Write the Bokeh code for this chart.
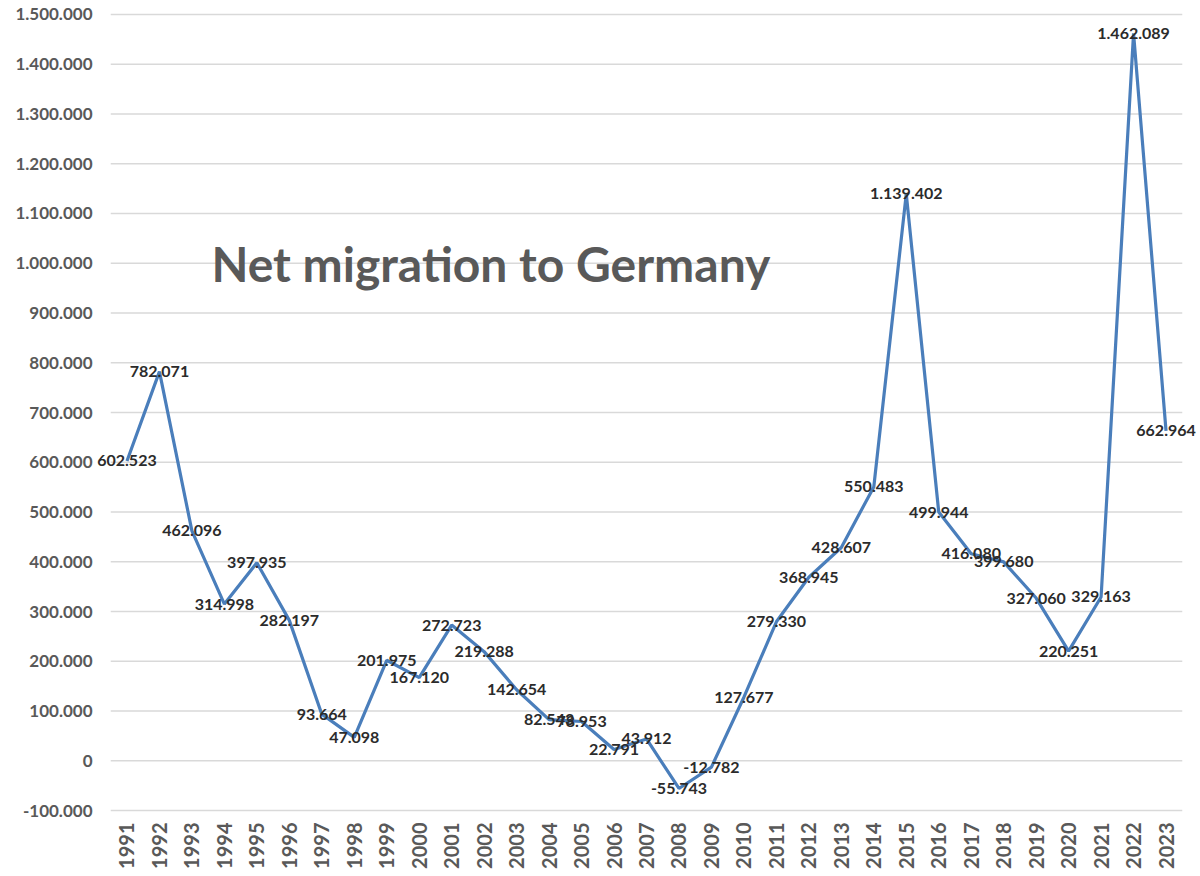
import math
from bokeh.plotting import figure
from bokeh.models import FactorRange, Range1d, FixedTicker, CustomJSTickFormatter, Label, ColumnDataSource
from bokeh.embed import file_html
from bokeh.resources import INLINE

years = [str(y) for y in range(1991, 2024)]
net_migration = [602523, 782071, 462096, 314998, 397935, 282197, 93664, 47098,
                 201975, 167120, 272723, 219288, 142654, 82543, 78953, 22791,
                 43912, -55743, -12782, 127677, 279330, 368945, 428607, 550483,
                 1139402, 499944, 416080, 399680, 327060, 220251, 329163,
                 1462089, 662964]
y_ticks = list(range(-100000, 1500001, 100000))
title_text = "Net migration to Germany"


def de_fmt(v):
    s = f"{abs(v):,}".replace(",", ".")
    return ("-" if v < 0 else "") + s


labels = [de_fmt(v) for v in net_migration]
src = ColumnDataSource(dict(x=years, y=net_migration, lab=labels))

FONT = "Lato"

# half a category of padding each side so edge data labels are not clipped
xr = FactorRange(*years, range_padding=0.5, range_padding_units="absolute")
p = figure(x_range=xr, y_range=Range1d(-104000, 1504000),
           width=1200, height=876, output_backend="svg", toolbar_location=None,
           min_border_left=94, min_border_right=2, min_border_top=12,
           min_border_bottom=64)
p.outline_line_color = None
p.background_fill_color = "white"
p.border_fill_color = "white"

# horizontal gridlines spanning only the category band
n = len(years)
p.segment(x0=[0] * len(y_ticks), x1=[n] * len(y_ticks), y0=y_ticks, y1=y_ticks,
          line_color="#d9d9d9", line_width=1.3, level="underlay")

p.line("x", "y", source=src, line_color="#4a7ebb", line_width=3.2)
for i, (v, lab) in enumerate(zip(net_migration, labels)):
    p.add_layout(Label(x=i + 0.5, y=v, text=lab, text_align="center",
                       text_baseline="middle", text_font=FONT, text_font_style="bold",
                       text_font_size="16px", text_color="#2b2b2b"))

p.add_layout(Label(x=3.1, y=1000000, text=title_text, text_align="left",
                   text_baseline="middle", text_font=FONT, text_font_style="bold",
                   text_font_size="48px", text_color="#595959"))

p.yaxis.ticker = FixedTicker(ticks=y_ticks)
p.yaxis.formatter = CustomJSTickFormatter(code="""
return Math.round(tick).toString().replace(/\\B(?=(\\d{3})+(?!\\d))/g, ".");
""")
p.yaxis.axis_line_color = None
p.yaxis.major_tick_line_color = None
p.yaxis.minor_tick_line_color = None
p.yaxis.major_tick_out = 0
p.yaxis.major_tick_in = 0
p.yaxis.major_label_standoff = 2
p.yaxis.major_label_text_font = FONT
p.yaxis.major_label_text_font_style = "bold"
p.yaxis.major_label_text_font_size = "17px"
p.yaxis.major_label_text_color = "#595959"

p.xaxis.axis_line_color = None
p.xaxis.major_tick_line_color = None
p.xaxis.minor_tick_line_color = None
p.xaxis.major_tick_out = 0
p.xaxis.major_tick_in = 0
p.xaxis.major_label_orientation = math.pi / 2
p.xaxis.major_label_standoff = 10
p.xaxis.major_label_text_font = FONT
p.xaxis.major_label_text_font_style = "bold"
p.xaxis.major_label_text_font_size = "20px"
p.xaxis.major_label_text_color = "#595959"

p.xgrid.grid_line_color = None
p.ygrid.grid_line_color = None

open("out.html", "w").write(file_html(p, INLINE))
